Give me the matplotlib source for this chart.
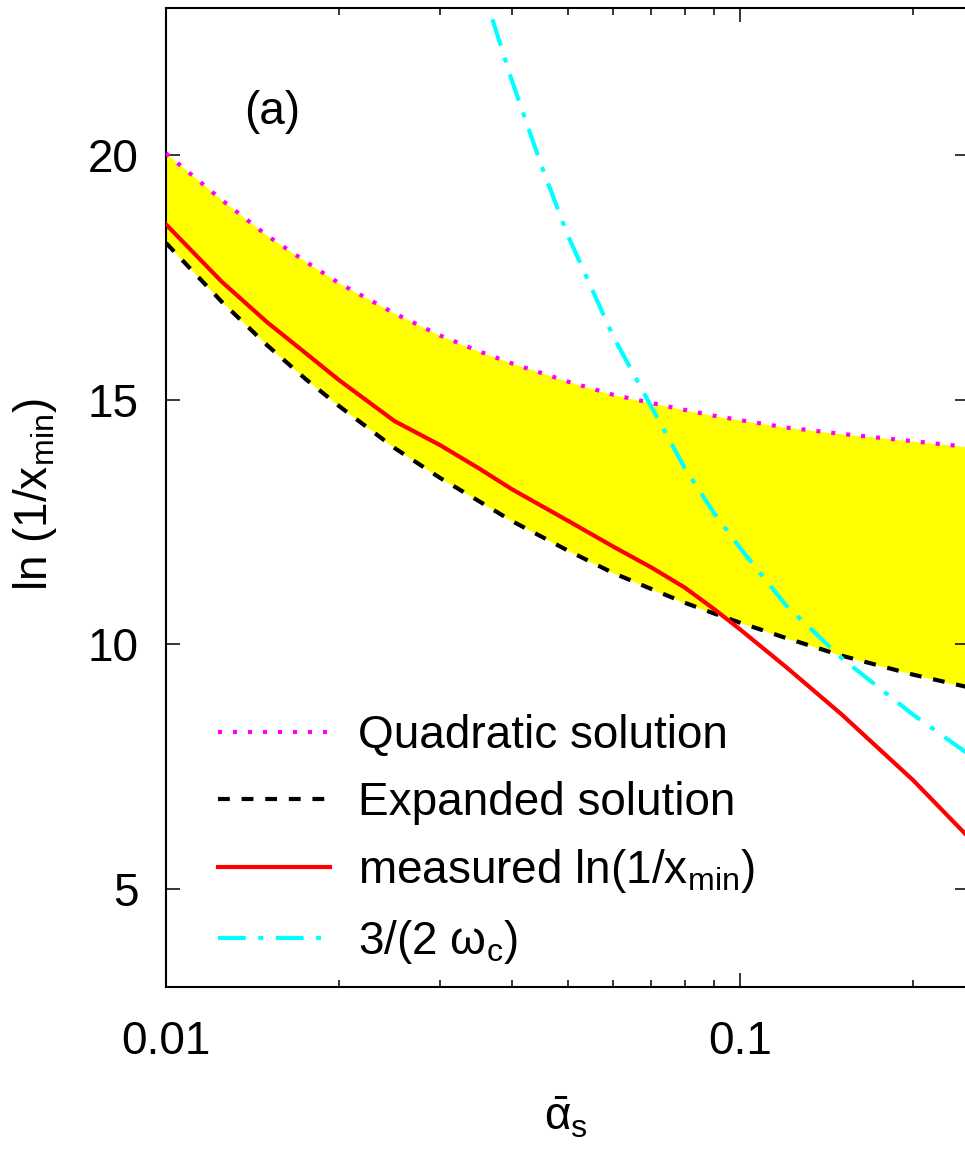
import matplotlib
matplotlib.use('Agg')
import matplotlib.pyplot as plt
from matplotlib.ticker import NullFormatter, LogLocator

plt.rcParams['font.family'] = ['Liberation Sans', 'DejaVu Sans']
plt.rcParams['mathtext.fontset'] = 'custom'
plt.rcParams['mathtext.rm'] = 'Liberation Sans'
plt.rcParams['mathtext.it'] = 'Liberation Sans'
plt.rcParams['mathtext.sf'] = 'Liberation Sans'
plt.rcParams['lines.scale_dashes'] = False

# coupling values and the ln(1/x_min) curves
alpha = [0.01, 0.0125, 0.015, 0.0175, 0.02, 0.025, 0.03, 0.035, 0.04, 0.05, 0.06, 0.07,
         0.08, 0.09, 0.1, 0.12, 0.15, 0.2, 0.25]
quadratic = [20.03, 19.08, 18.35, 17.82, 17.38, 16.76, 16.31, 15.99, 15.74, 15.37, 15.10, 14.93,
             14.79, 14.67, 14.58, 14.43, 14.30, 14.15, 14.03]
expanded = [18.20, 17.00, 16.11, 15.42, 14.87, 14.01, 13.40, 12.93, 12.52, 11.92, 11.46, 11.13,
            10.85, 10.63, 10.44, 10.13, 9.77, 9.38, 9.12]
measured = [18.58, 17.41, 16.58, 15.95, 15.40, 14.56, 14.07, 13.60, 13.17, 12.53, 12.00, 11.57,
            11.16, 10.72, 10.30, 9.54, 8.57, 7.22, 6.05]

alpha_c = [0.037, 0.04, 0.045, 0.05, 0.06, 0.07, 0.08, 0.09, 0.1, 0.12, 0.15, 0.2, 0.25]
omega_c = [22.77, 21.52, 19.79, 18.37, 16.30, 14.85, 13.60, 12.68, 11.96, 10.80,
           9.72, 8.56, 7.75]

fs = 33

fig = plt.figure(figsize=(9.65, 11.51), dpi=100)
ax = fig.add_axes([166/965, 1 - 987/1151, (969 - 166)/965, (987 - 8)/1151])

# band between the two analytic solutions
ax.fill_between(alpha, expanded, quadratic, color='#ffff00', lw=0, zorder=1)

ax.plot(alpha, quadratic, color='#ff00ff', lw=3, dashes=(2.9, 7.9),
        label='Quadratic solution', zorder=3)
ax.plot(alpha, expanded, color='black', lw=3, dashes=(8.5, 8.5),
        label='Expanded solution', zorder=3)
ax.plot(alpha, measured, color='#ff0000', lw=3,
        label=r'measured ln(1/x$_{\mathrm{min}}$)', zorder=4)
ax.plot(alpha_c, omega_c, color='#00ffff', lw=3, dashes=(20, 9, 3.6, 9),
        label=r'3/(2 $\mathrm{\omega}_{\mathrm{c}}$)', zorder=3)

ax.set_xscale('log')
ax.set_xlim(0.01, 0.25)
ax.set_ylim(3, 23)

ax.set_xticks([0.01, 0.1], ['0.01', '0.1'])
ax.xaxis.set_minor_locator(LogLocator(base=10, subs=range(2, 10)))
ax.xaxis.set_minor_formatter(NullFormatter())
ax.set_yticks([5, 10, 15, 20], ['5', '10', '15', '20'])

ax.tick_params(which='both', direction='in', top=True, right=True, width=1.1)
ax.tick_params(which='major', length=10, labelsize=fs)
ax.tick_params(which='minor', length=5)
ax.tick_params(axis='x', pad=24)
ax.tick_params(axis='y', pad=20)
for s in ax.spines.values():
    s.set_linewidth(1.5)

fig.text(35/965, 1 - 495/1151, r'ln (1/x$_{\mathrm{min}}$)', rotation=90,
         fontsize=fs, ha='center', va='center')
fig.text(566/965, 1 - 1118/1151, r'$\bar{\mathrm{\alpha}}_{\mathrm{s}}$',
         fontsize=fs, ha='center', va='center')

ax.text(0.0153, 20.88, '(a)', fontsize=fs, ha='center', va='center')

ax.legend(loc='center left', bbox_to_anchor=(218/965, 1 - 840/1151),
          bbox_transform=fig.transFigure, frameon=False, fontsize=fs,
          handlelength=2.45, handletextpad=0.6, labelspacing=0.5,
          borderpad=0, borderaxespad=0)

fig.savefig('out.png', dpi=100)
